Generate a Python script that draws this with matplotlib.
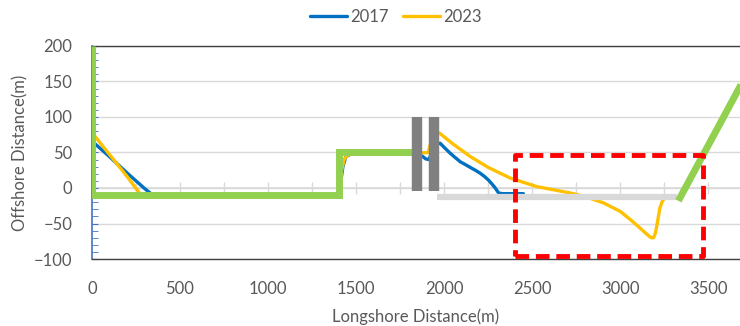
import numpy as np
import matplotlib.pyplot as plt
from matplotlib.ticker import MultipleLocator

plt.rcParams['font.family'] = ['Lato', 'DejaVu Sans']

# shoreline 2017
x2017 = [0, 100, 200, 300, 335, 400, 750, 1000, 1200, 1395, 1410, 1425, 1440, 1460, 1500,
         1800, 1860, 1875, 1895, 1915, 1940, 1977, 2005, 2034, 2062, 2091, 2120, 2148,
         2177, 2205, 2230, 2252, 2272, 2290, 2309, 2330, 2450]
y2017 = [66, 44, 21, -1, -8, -10, -11, -12, -11, -10, 5, 30, 43, 47, 48,
         48, 47, 45, 41, 40, 60, 63, 56, 49, 43, 37, 33, 29,
         25, 20.7, 16, 11, 5.5, 0, -7, -8, -8]

# shoreline 2023
x2023 = [0, 100, 200, 275, 300, 750, 1000, 1200, 1395, 1405, 1418, 1432, 1450, 1480,
         1850, 1910, 1940, 1975, 2050, 2150, 2250, 2375, 2525, 2715, 2800, 2905, 3000,
         3060, 3110, 3155, 3175, 3190, 3200, 3210, 3225, 3240, 3255]
y2023 = [78, 47, 16, -9, -11, -12, -12, -12, -11, 0, 25, 40, 46, 48,
         49, 50, 80, 77, 62, 44, 29, 14, 2, -7, -12, -21, -33,
         -45, -56, -66, -70, -70, -63, -50, -28, -18, -14]

# structures
seawall_x = [0, 0, 1400, 1400, 1820]
seawall_y = [200, -10, -10, 50, 50]
slope_x = [3330, 3700]
slope_y = [-18, 152]
jetty_x = [1845, 1945]
jetty_y0, jetty_y1 = -4, 100
bar_x = [1958, 3322]
bar_y = -12.5
box_x = [2400, 3470]
box_y = [-96, 46]

txt = '#595959'
fig = plt.figure(figsize=(7.4, 3.26), dpi=100)
ax = fig.add_axes([0.1243, 0.2055, 0.8757, 0.6535])

ax.plot(x2017, y2017, color='#0070C0', lw=2.4, label='2017', zorder=3,
        solid_capstyle='round')
ax.plot(x2023, y2023, color='#FFC000', lw=2.4, label='2023', zorder=3,
        solid_capstyle='round')
ax.plot(bar_x, [bar_y, bar_y], color='#D9D9D9', lw=4.5, zorder=4,
        solid_capstyle='butt')
ax.plot(seawall_x, seawall_y, color='#92D050', lw=5, zorder=5,
        solid_capstyle='butt', solid_joinstyle='miter')
ax.plot(slope_x, slope_y, color='#92D050', lw=5, zorder=5, solid_capstyle='butt')
for jx in jetty_x:
    ax.plot([jx, jx], [jetty_y0, jetty_y1], color='#808080', lw=7.5, zorder=6,
            solid_capstyle='butt')
ax.plot([box_x[0], box_x[1], box_x[1], box_x[0], box_x[0]],
        [box_y[0], box_y[0], box_y[1], box_y[1], box_y[0]],
        color='#FF0000', lw=3.5, ls=(0, (2.8, 1.4)), zorder=7)

ax.set_xlim(0, 3680)
ax.set_ylim(-100, 200)
ax.set_xticks(np.arange(0, 3501, 500))
ax.set_yticks(np.arange(-100, 201, 50))
ax.yaxis.set_minor_locator(MultipleLocator(10))
ax.tick_params(axis='x', length=0, pad=16, labelsize=12, labelcolor=txt)
ax.tick_params(axis='y', which='both', direction='in', length=4, color='#4472C4',
               pad=14, labelsize=12, labelcolor=txt)
ax.grid(axis='y', color='#D9D9D9', lw=1, zorder=0)
ax.set_axisbelow(True)

for s in ['top', 'bottom']:
    ax.spines[s].set_color('#404040')
    ax.spines[s].set_linewidth(1)
ax.spines['right'].set_visible(False)
ax.spines['left'].set_color('#4472C4')
ax.spines['left'].set_linewidth(1.2)

# x axis line through zero
sec = ax.secondary_xaxis(1 / 3)
sec.set_xticks(np.arange(0, 3680, 250))
sec.tick_params(direction='inout', length=9, color='#D9D9D9', labelbottom=False,
                width=1)
sec.spines['bottom'].set_color('#D9D9D9')
sec.spines['bottom'].set_linewidth(1.2)

ax.set_xlabel('Longshore Distance(m)', fontsize=12, color=txt, labelpad=8)
ax.set_ylabel('Offshore Distance(m)', fontsize=12, color=txt, labelpad=4)

fig.legend(loc='center', bbox_to_anchor=(0.535, 0.948), ncol=2, frameon=False,
           fontsize=12, labelcolor=txt, handlelength=2.2, handletextpad=0.2,
           columnspacing=0.9)

fig.savefig('out.png', dpi=100)
